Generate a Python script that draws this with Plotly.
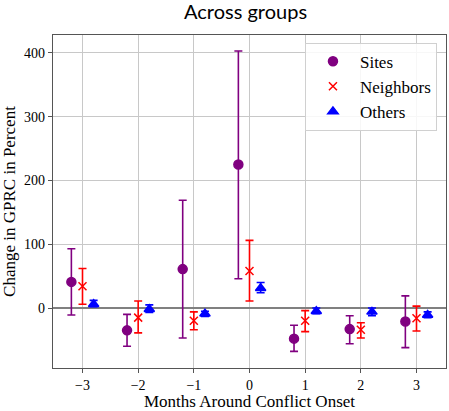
import plotly.graph_objects as go

months = [-3, -2, -1, 0, 1, 2, 3]
tick_labels = ["\u22123", "\u22122", "\u22121", "0", "1", "2", "3"]

sites = [41, -35, 61, 225, -48, -33, -21]
sites_lo = [-11, -60, -47, 46, -68, -56, -62]
sites_hi = [93, -10, 169, 403, -27, -12, 19]

neighbors = [34, -15, -20, 58, -20, -34, -16]
neighbors_lo = [6, -39, -34, 11, -37, -47, -36]
neighbors_hi = [62, 11, -6, 106, -4, -23, 3]

others = [6, -2, -9, 31, -5, -6, -11]
others_lo = [2, -7, -13, 24, -9, -12, -15]
others_hi = [12, 5, -5, 40, 0, 0, -6]

offsets = [-0.2, 0.0, 0.2]
series = [
    ("Sites", sites, sites_lo, sites_hi, "#800080", "circle", 9),
    ("Neighbors", neighbors, neighbors_lo, neighbors_hi, "#ff0000", "x-thin-open", 8),
    ("Others", others, others_lo, others_hi, "#0000ff", "triangle-up", 9),
]

fig = go.Figure()
for (name, vals, lo, hi, color, sym, size), off in zip(series, offsets):
    fig.add_trace(go.Scatter(
        x=[m + off for m in months], y=vals, mode="markers", name=name,
        marker=dict(symbol=sym, size=size, color=color,
                    line=dict(color=color, width=1.5)),
        error_y=dict(type="data", symmetric=False,
                     array=[h - v for h, v in zip(hi, vals)],
                     arrayminus=[v - l for v, l in zip(vals, lo)],
                     color=color, thickness=1.6, width=4),
    ))

serif = "Liberation Serif, DejaVu Serif, serif"
fig.update_layout(
    width=449, height=411,
    margin=dict(l=53, r=3, t=35, b=43, autoexpand=False),
    paper_bgcolor="white", plot_bgcolor="white",
    title=dict(text="Across groups", xref="paper", x=0.49, xanchor="center", y=0.972, yanchor="middle",
               font=dict(family="Lato, DejaVu Sans, sans-serif", size=20, color="black")),
    font=dict(family=serif, size=14, color="black"),
    xaxis=dict(range=[-3.53, 3.53], tickvals=months, ticktext=tick_labels, automargin=False,
               showgrid=True, gridcolor="#c8c8c8", gridwidth=1,
               showline=True, linecolor="#555555", linewidth=1.3, mirror=True,
               ticks="outside", ticklen=4, tickcolor="#555555", zeroline=False,
               title=dict(text="Months Around Conflict Onset", font=dict(size=17), standoff=0)),
    yaxis=dict(range=[-94, 428], tickvals=[0, 100, 200, 300, 400], automargin=False,
               showgrid=True, gridcolor="#c8c8c8", gridwidth=1,
               showline=True, linecolor="#555555", linewidth=1.3, mirror=True,
               ticks="outside", ticklen=4, tickcolor="#555555",
               zeroline=True, zerolinecolor="#808080", zerolinewidth=1.6,
               title=dict(text="Change in GPRC in Percent", font=dict(size=17), standoff=4)),
    legend=dict(x=0.977, y=0.977, xanchor="right", yanchor="top", itemwidth=44,
                bgcolor="rgba(255,255,255,0.85)", bordercolor="#d0d0d0", borderwidth=1,
                font=dict(family=serif, size=17)),
    showlegend=True,
)

fig.write_html("out.html", config={"displayModeBar": False},
               post_script="document.body.style.margin='0';document.body.style.overflow='hidden';")
